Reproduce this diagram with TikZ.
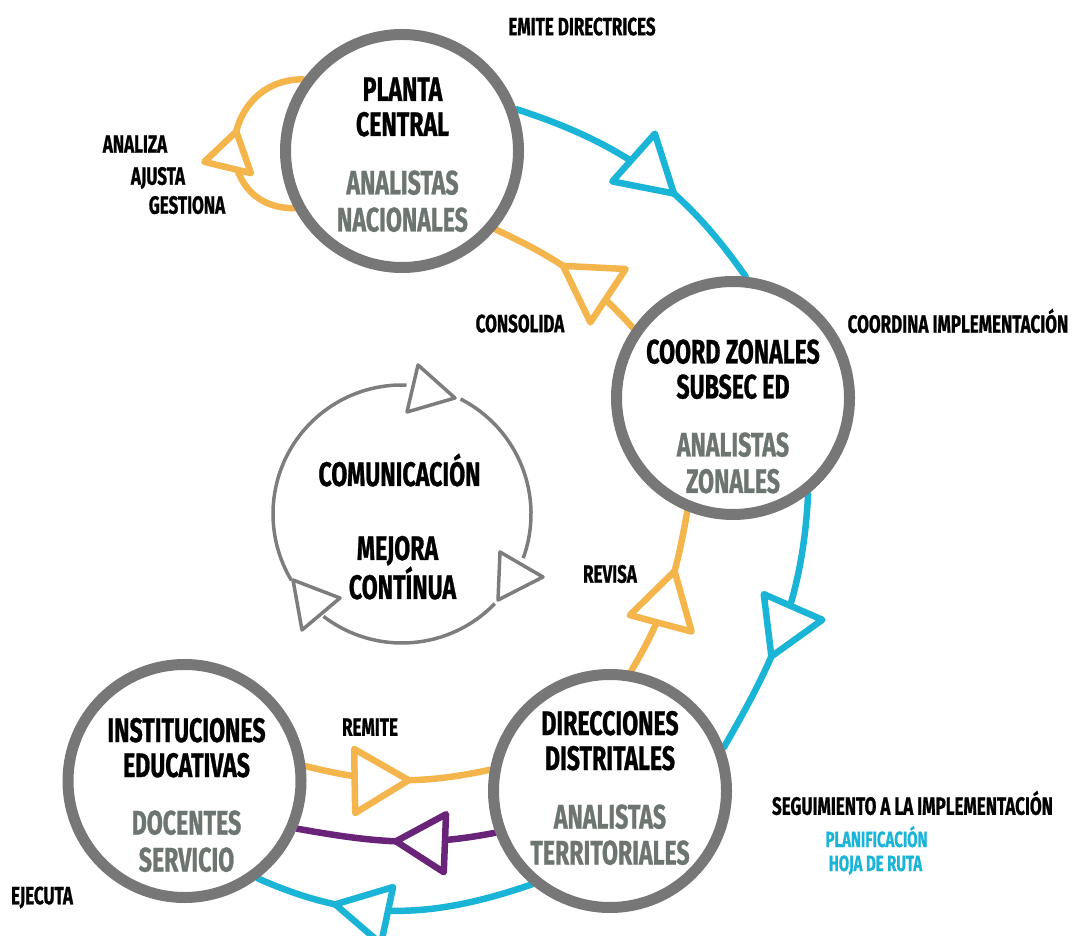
\documentclass[tikz,border=0pt]{standalone}
\usepackage{fontspec}
\setmainfont{Fira Sans}[FakeStretch=0.68, BoldFeatures={FakeBold=0.8}]
\usetikzlibrary{decorations.markings,backgrounds}
\definecolor{ringgray}{RGB}{119,119,119}
\definecolor{subgray}{RGB}{108,117,111}
\definecolor{cyanc}{RGB}{26,180,214}
\definecolor{orangec}{RGB}{244,181,76}
\definecolor{purplec}{RGB}{105,36,122}
\definecolor{commgray}{RGB}{125,125,125}
\tikzset{
  ring/.style={circle, draw=ringgray, line width=11pt, fill=white, minimum size=233pt, inner sep=0pt},
  bigtxt/.style={font=\fontsize{34}{34}\selectfont\bfseries, text height=24pt, text depth=0pt, inner sep=0pt, anchor=center},
  subtxt/.style={bigtxt, text=subgray, text height=23pt},
  lbl/.style={font=\fontsize{25}{25}\selectfont\bfseries, text height=17.5pt, text depth=0pt, inner sep=0pt},
  cyl/.style={font=\fontsize{22}{22}\selectfont\bfseries, text=cyanc, text height=14pt, text depth=0pt, inner sep=0pt},
  conn/.style={line width=6.5pt, line cap=round},
  tri/.style n args={4}{postaction={decorate, decoration={markings, mark=at position #1 with {\draw[draw=#2, fill=white, line width=6.5pt, line join=round] (0,0) -- (-#3,#4) -- (-#3,-#4) -- cycle;}}}},
  commline/.style={draw=commgray, line width=3.5pt},
  commtri/.style={draw=commgray, line width=3.5pt, line join=round, fill=white},
}
\begin{document}
\begin{tikzpicture}[x=1pt,y=1pt]
\useasboundingbox (0,0) rectangle (1073,935);
% main circles
\node[ring] (pc) at (402,784) {};
\node[ring] (cz) at (733,537) {};
\node[ring] (dd) at (610,144) {};
\node[ring] (ie) at (184.5,154) {};
% communication circle
\node[circle, minimum size=258pt, inner sep=0pt] (cm) at (402,421) {};
\draw[commline] ([shift={(88:129)}]cm.center) arc[start angle=88, end angle=211, radius=129];
\draw[commline] ([shift={(232.5:129)}]cm.center) arc[start angle=232.5, end angle=316, radius=129];
\draw[commline] ([shift={(-20:129)}]cm.center) arc[start angle=-20, end angle=63, radius=129];
\draw[commtri] (418,570) -- (455,537) -- (407,523) -- cycle;
\draw[commtri] (500,383) -- (543,358) -- (498,335) -- cycle;
\draw[commtri] (293,355) -- (340,337) -- (302,305) -- cycle;
% connectors
\begin{pgfonlayer}{background}
\draw[conn, draw=cyanc, tri={0.62}{cyanc}{54}{32}] (pc.20) to[out=-18, in=125] (cz.84);
\draw[conn, draw=cyanc, tri={0.62}{cyanc}{54}{32}] (cz.-52) to[out=-93, in=60] (dd.21);
\draw[conn, draw=cyanc, tri={0.71}{cyanc}{53}{29}] (dd.230) to[out=199, in=-24] (ie.-53);
\draw[conn, draw=orangec, tri={0.55}{orangec}{37}{24}] (pc.208) to[out=180, in=180, looseness=1.7] (pc.144);
\draw[conn, draw=orangec, tri={0.55}{orangec}{54}{32}] (cz.145) to[out=132, in=-25] (pc.-40);
\draw[conn, draw=orangec, tri={0.64}{orangec}{54}{32}] (dd.80) to[out=59, in=-100] (cz.248);
\draw[conn, draw=orangec, tri={0.56}{orangec}{54}{32}] (ie.7) to[out=-14, in=192] (dd.170);
\draw[conn, draw=purplec, tri={0.5}{purplec}{49}{29}] (dd.200) to[out=191, in=-10] (ie.-23);
\end{pgfonlayer}
% circle texts
\node[bigtxt] (pc1) at (402.5,846) {PLANTA};
\node[bigtxt] (pc2) at (402.5,811) {CENTRAL};
\node[subtxt] (pc3) at (402.5,752) {ANALISTAS};
\node[subtxt] (pc4) at (402.5,715) {NACIONALES};
\node[bigtxt] (cz1) at (733,583.5) {COORD ZONALES};
\node[bigtxt] (cz2) at (733,548.5) {SUBSEC ED};
\node[subtxt] (cz3) at (733,490) {ANALISTAS};
\node[subtxt] (cz4) at (733,453.5) {ZONALES};
\node[bigtxt] (dd1) at (610,212) {DIRECCIONES};
\node[bigtxt] (dd2) at (610,177) {DISTRITALES};
\node[subtxt] (dd3) at (610,118) {ANALISTAS};
\node[subtxt] (dd4) at (610,82) {TERRITORIALES};
\node[bigtxt] (ie1) at (186.5,205) {INSTITUCIONES};
\node[bigtxt] (ie2) at (186.5,170) {EDUCATIVAS};
\node[subtxt] (ie3) at (186.5,112) {DOCENTES};
\node[subtxt] (ie4) at (186.5,75) {SERVICIO};
\node[bigtxt] (cm1) at (399.5,461) {COMUNICACIÓN};
\node[bigtxt] (cm2) at (397.5,387) {MEJORA};
\node[bigtxt] (cm3) at (402.5,348) {CONTÍNUA};
% labels
\node[lbl] (l1) at (582,908.5) {EMITE DIRECTRICES};
\node[lbl] (l2) at (135,791) {ANALIZA};
\node[lbl] (l3) at (158,759) {AJUSTA};
\node[lbl] (l4) at (187,730) {GESTIONA};
\node[lbl] (l5) at (520,611.5) {CONSOLIDA};
\node[lbl] (l6) at (958,611) {COORDINA IMPLEMENTACIÓN};
\node[lbl] (l7) at (610,361) {REVISA};
\node[lbl] (l8) at (370,208) {REMITE};
\node[lbl] (l9) at (912.5,129) {SEGUIMIENTO A LA IMPLEMENTACIÓN};
\node[cyl] (l10) at (876.5,95) {PLANIFICACIÓN};
\node[cyl] (l11) at (875.5,71) {HOJA DE RUTA};
\node[lbl] (l12) at (42,39.5) {EJECUTA};
\end{tikzpicture}
\end{document}
